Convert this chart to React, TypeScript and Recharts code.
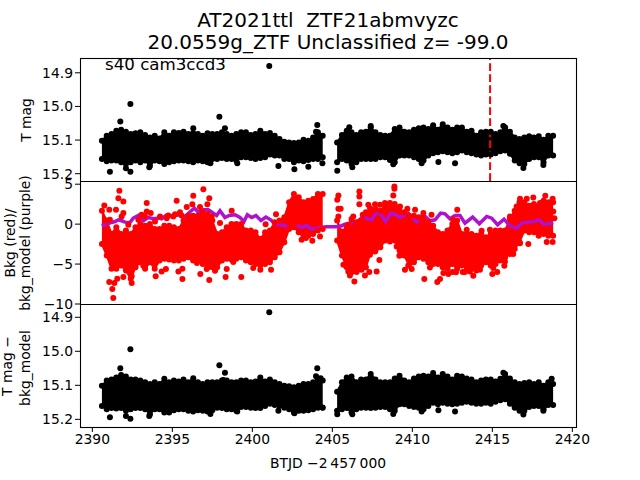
import { Area, ComposedChart, Line, ReferenceLine, Scatter, XAxis, YAxis } from "recharts";

const xDomain: [number, number] = [2389.23, 2420.23];
const xTicks = [2390, 2395, 2400, 2405, 2410, 2415, 2420];
const magTicks = [14.9, 15.0, 15.1, 15.2];
const bkgTicks = [5, 0, -5, -10];
const eventTime = 2414.86;

// sampling times of the band edges, one list per orbit
const timesA = [2390.6, 2390.9, 2391.2, 2391.5, 2391.8, 2392.1, 2392.4, 2392.7, 2393.0, 2393.3, 2393.6, 2393.9, 2394.2, 2394.5, 2394.8, 2395.1, 2395.4, 2395.7, 2396.0, 2396.3, 2396.6, 2396.9, 2397.2, 2397.5, 2397.8, 2398.1, 2398.4, 2398.7, 2399.0, 2399.3, 2399.6, 2399.9, 2400.2, 2400.5, 2400.8, 2401.1, 2401.4, 2401.7, 2402.0, 2402.3, 2402.6, 2402.9, 2403.2, 2403.5, 2403.8, 2404.1, 2404.4];
const timesB = [2405.3, 2405.6, 2405.9, 2406.2, 2406.5, 2406.8, 2407.1, 2407.4, 2407.7, 2408.0, 2408.3, 2408.6, 2408.9, 2409.2, 2409.5, 2409.8, 2410.1, 2410.4, 2410.7, 2411.0, 2411.3, 2411.6, 2411.9, 2412.2, 2412.5, 2412.8, 2413.1, 2413.4, 2413.7, 2414.0, 2414.3, 2414.6, 2414.9, 2415.2, 2415.5, 2415.8, 2416.1, 2416.4, 2416.7, 2417.0, 2417.3, 2417.6, 2417.9, 2418.2, 2418.5, 2418.8];

// top panel: T mag
const magHiA = [15.102, 15.087, 15.082, 15.072, 15.069, 15.075, 15.082, 15.08, 15.077, 15.085, 15.092, 15.087, 15.095, 15.077, 15.087, 15.077, 15.079, 15.075, 15.082, 15.079, 15.082, 15.087, 15.08, 15.082, 15.082, 15.077, 15.082, 15.087, 15.082, 15.077, 15.077, 15.085, 15.082, 15.072, 15.082, 15.079, 15.087, 15.097, 15.105, 15.107, 15.109, 15.107, 15.099, 15.102, 15.092, 15.077, 15.087];
const magLoA = [15.156, 15.163, 15.161, 15.161, 15.166, 15.171, 15.166, 15.161, 15.166, 15.161, 15.176, 15.161, 15.163, 15.171, 15.166, 15.163, 15.161, 15.161, 15.163, 15.166, 15.161, 15.163, 15.166, 15.156, 15.156, 15.153, 15.156, 15.156, 15.161, 15.151, 15.151, 15.153, 15.156, 15.153, 15.151, 15.143, 15.146, 15.146, 15.156, 15.156, 15.166, 15.161, 15.163, 15.159, 15.156, 15.156, 15.151];
const magHiB = [15.107, 15.085, 15.072, 15.077, 15.085, 15.077, 15.075, 15.063, 15.077, 15.085, 15.087, 15.087, 15.067, 15.063, 15.075, 15.077, 15.069, 15.065, 15.063, 15.067, 15.056, 15.069, 15.053, 15.063, 15.069, 15.063, 15.063, 15.075, 15.072, 15.087, 15.077, 15.075, 15.075, 15.082, 15.077, 15.063, 15.075, 15.092, 15.097, 15.092, 15.089, 15.092, 15.089, 15.099, 15.087, 15.087];
const magLoB = [15.166, 15.156, 15.161, 15.171, 15.166, 15.156, 15.156, 15.156, 15.156, 15.151, 15.151, 15.159, 15.166, 15.146, 15.146, 15.146, 15.151, 15.156, 15.161, 15.146, 15.139, 15.136, 15.133, 15.136, 15.139, 15.136, 15.131, 15.136, 15.139, 15.143, 15.146, 15.143, 15.143, 15.139, 15.133, 15.131, 15.141, 15.161, 15.169, 15.171, 15.156, 15.151, 15.151, 15.166, 15.146, 15.146];
const magOutT = [2401.06, 2392.38, 2391.75, 2397.94, 2396.31, 2398.29, 2404.06, 2403.98, 2391.1, 2392.1, 2392.38, 2393.56, 2397.38, 2399.06, 2401.63, 2402.63, 2404.38, 2403.5, 2405.31, 2406.25, 2416.94, 2418.19, 2411.63, 2412.67, 2415.69, 2406.06, 2407.4, 2408.81, 2410.58];
const magOutV = [14.88, 14.993, 15.045, 15.031, 15.065, 15.065, 15.055, 15.075, 15.194, 15.184, 15.194, 15.181, 15.169, 15.169, 15.177, 15.187, 15.169, 15.179, 15.191, 15.181, 15.183, 15.174, 15.165, 15.169, 15.058, 15.062, 15.058, 15.172, 15.169];

// middle panel: background
const bkgHiA = [1.69, 0.44, -1.23, -0.4, -1.23, -0.81, -1.23, -0.4, 0.02, -0.19, 0.02, -0.6, -0.6, -0.19, -0.19, -0.4, -0.6, 0.44, 1.06, 1.06, 1.06, 1.48, 1.27, 0.44, -1.23, -1.02, -0.4, 0.02, 0.02, 0.02, -0.81, -0.81, -1.02, -1.85, -1.02, -0.81, 0.23, 0.44, 0.85, 2.73, 3.77, 3.35, 2.73, 2.94, 3.15, 3.77, 3.77];
const bkgLoA = [-2.5, -3.94, -5.6, -5.6, -5.19, -5.81, -6.85, -5.4, -4.77, -5.6, -4.77, -5.6, -4.56, -4.35, -4.44, -4.56, -4.56, -4.35, -4.15, -4.56, -4.56, -4.98, -5.4, -5.4, -5.4, -4.56, -4.35, -4.44, -4.35, -4.15, -4.56, -4.77, -4.98, -5.19, -4.98, -4.77, -4.15, -3.52, -2.27, -0.6, -0.4, -1.02, -1.65, -1.44, -1.23, -0.81, -0.6];
const bkgHiB = [0.44, -1.02, -0.4, 0.65, 0.23, 0.44, 1.48, 1.48, 1.9, 1.69, 2.1, 2.52, 2.52, 1.69, 1.48, 1.06, 1.06, 0.85, 0.65, 0.23, -0.19, -1.02, -1.23, -0.81, 0.02, 0.44, -1.23, -1.23, -1.23, -1.44, -1.23, -1.65, -1.23, -0.81, -0.81, -0.81, 0.65, 1.69, 2.73, 2.73, 2.31, 2.52, 2.31, 2.94, 2.73, 2.73];
const bkgLoB = [-2.06, -3.94, -5.4, -6.02, -5.6, -5.19, -5.4, -3.52, -3.31, -2.9, -2.06, -1.65, -2.06, -3.31, -3.94, -5.19, -4.77, -4.15, -4.35, -4.77, -4.98, -4.98, -5.4, -5.6, -4.98, -5.6, -5.19, -5.4, -5.6, -5.81, -5.19, -4.77, -5.19, -4.98, -4.56, -4.15, -3.73, -3.1, -2.27, -0.81, -1.02, -1.02, -1.44, -1.23, -1.44, -1.44];
const bkgOutT = [2391.69, 2391.63, 2391.94, 2390.75, 2391.48, 2391.06, 2391.94, 2393.4, 2393.4, 2393.65, 2393.08, 2395.27, 2396.31, 2396.94, 2397.31, 2397.19, 2396.25, 2395.9, 2396.73, 2395.48, 2395.17, 2394.75, 2398.71, 2391.31, 2391.25, 2391.06, 2391.38, 2391.56, 2391.94, 2392.46, 2392.46, 2393.96, 2394.33, 2394.6, 2395.38, 2395.63, 2395.63, 2397.31, 2396.75, 2396.54, 2397.15, 2397.67, 2398.33, 2398.4, 2398.81, 2399.31, 2400.5, 2400.06, 2401.17, 2393.19, 2401.48, 2403.08, 2403.75, 2404.23, 2403.35, 2397.98, 2400.83, 2408.88, 2408.88, 2408.81, 2406.69, 2406.69, 2406.69, 2405.38, 2405.31, 2405.38, 2405.52, 2405.38, 2407.25, 2407.67, 2408.29, 2409.69, 2412.81, 2417.56, 2418.31, 2418.77, 2406.38, 2406.1, 2406.52, 2407.04, 2407.31, 2407.77, 2407.94, 2407.67, 2409.19, 2409.54, 2409.75, 2409.96, 2410.75, 2411.56, 2411.73, 2411.94, 2412.52, 2412.73, 2413.15, 2413.29, 2413.81, 2415.0, 2415.31, 2415.75, 2416.31, 2417.25, 2418.4, 2418.77];
const bkgOutV = [4.17, 3.25, 2.83, 2.33, 1.79, 1.79, 1.38, 2.63, 1.58, 1.38, 1.17, 2.92, 3.54, 4.38, 3.25, 2.5, 2.5, 2.13, 2.13, 1.5, 1.25, 1.08, 1.67, -9.25, -8.13, -7.25, -7.38, -6.83, -6.63, -7.38, -6.54, -6.54, -5.92, -5.63, -5.92, -5.58, -6.88, -7.0, -6.25, -4.88, -5.63, -5.83, -6.63, -5.63, -4.75, -6.63, -5.71, -5.5, -5.71, -5.21, 1.25, -1.96, -2.08, -1.54, -1.75, 0.13, 0, 4.71, 4.42, 3.58, 4.08, 3.46, 2.5, 3.58, 3.04, 1.92, 1.92, 0.96, 2.42, 2.5, 2.63, 1.92, 1.79, 3.33, 3.54, 3.17, -7.17, -6.42, -6.0, -6.42, -6.0, -5.92, -4.5, -3.42, -3.96, -5.71, -5.17, -5.63, -6.88, -7.25, -6.88, -6.13, -6.0, -6.04, -6.0, -6.0, -6.46, -6.25, -6.0, -5.21, -3.75, -2.5, -2.25, -2.25];
// loose dots that make the edges of the red band lumpy
const bkgEdgeT = [2391.1, 2391.83, 2392.25, 2392.88, 2393.29, 2393.92, 2394.23, 2394.65, 2395.06, 2395.58, 2397.46, 2405.69, 2406.0, 2406.31, 2406.9, 2407.36, 2407.98, 2408.6, 2409.23, 2410.17, 2410.69, 2411.2, 2412.56, 2412.25, 2413.4, 2414.33, 2414.85, 2416.1, 2416.52, 2416.73, 2417.15, 2417.98, 2418.81, 2418.88, 2405.69, 2406.0, 2406.83, 2407.04, 2407.35, 2408.6, 2409.02, 2409.33, 2411.1, 2412.25, 2413.6, 2414.23, 2415.06, 2415.79, 2416.73];
const bkgEdgeV = [0.54, 0.96, -0.08, 0.54, 0.96, 0.33, 0.96, 0.75, 0.96, 1.08, 0.96, -0.92, -0.08, 0.96, 1.17, 2.0, 2.42, 2.63, 2.21, 1.79, 1.38, 1.17, 0.54, -0.92, -0.71, -0.83, -0.71, 0.96, 2.21, 3.17, 3.17, 2.63, 1.58, 0.75, -5.08, -5.92, -5.71, -5.29, -3.83, -2.17, -2.79, -3.83, -5.42, -6.25, -5.92, -5.71, -5.5, -4.67, -2.38];
const modelT = [2390.58, 2390.9, 2391.21, 2391.42, 2391.63, 2391.83, 2392.04, 2392.35, 2392.56, 2392.88, 2393.19, 2393.5, 2393.81, 2394.13, 2394.33, 2394.6, 2394.85, 2395.17, 2395.48, 2395.79, 2396.13, 2396.38, 2396.63, 2396.94, 2397.25, 2397.56, 2397.77, 2397.98, 2398.29, 2398.56, 2398.92, 2399.23, 2399.48, 2399.69, 2399.96, 2400.23, 2400.54, 2400.85, 2401.15, 2401.42, 2401.73, 2402.04, 2402.25, 2402.56, 2402.88, 2403.08, 2403.4, 2403.71, 2404.02, 2404.33, 2404.65, 2405.27, 2405.48, 2405.79, 2406.21, 2406.63, 2406.94, 2407.25, 2407.46, 2407.67, 2407.98, 2408.33, 2408.65, 2408.98, 2409.23, 2409.75, 2410.27, 2410.69, 2411.1, 2411.42, 2411.77, 2412.04, 2412.35, 2412.67, 2412.98, 2413.29, 2413.77, 2414.19, 2414.65, 2414.96, 2415.33, 2415.73, 2416.1, 2416.52, 2416.83, 2417.25, 2417.56, 2417.94, 2418.19, 2418.5, 2418.81];
const modelV = [-0.17, 0, 0.21, 0.33, 0.54, 0.42, 0.25, 0.21, 0.75, 1.08, 0.42, 0.83, 0.67, 0.75, 0.67, 1.08, 0.96, 1.08, 1.17, 0.96, 1.58, 2.0, 1.5, 1.79, 1.79, 1.38, 1.08, 1.67, 0.83, 1.08, 1.17, 0.83, 0.33, 1.17, 0.83, 1.08, 0.46, 0.88, 0.54, 0, -0.08, -0.17, -0.5, -0.42, -0.21, -0.42, -0.17, -0.63, -0.5, -0.38, -0.33, -0.33, -0.29, 0, 0.13, 0.42, 0.96, 0.63, 0.54, 1.25, 1.38, 0.33, 1.38, 1.17, 0.83, 1.38, 0.25, 1.17, 0.42, 0.54, 1.38, 1.29, 0.67, 1.08, 1.08, 0.13, 0.88, 0.04, 0.96, 0.75, -0.08, 0.63, -0.21, -0.5, 0.13, 0.25, 0.33, 0.54, 0, 0.04, 0.17];

// bottom panel: T mag minus background model
const corrHiA = [15.101, 15.086, 15.083, 15.077, 15.07, 15.074, 15.083, 15.083, 15.086, 15.091, 15.096, 15.091, 15.096, 15.081, 15.091, 15.086, 15.089, 15.083, 15.091, 15.086, 15.091, 15.096, 15.091, 15.091, 15.091, 15.086, 15.086, 15.091, 15.091, 15.086, 15.086, 15.091, 15.089, 15.077, 15.089, 15.083, 15.091, 15.096, 15.101, 15.103, 15.106, 15.101, 15.096, 15.096, 15.091, 15.08, 15.086];
const corrLoA = [15.161, 15.17, 15.167, 15.168, 15.167, 15.175, 15.17, 15.167, 15.167, 15.17, 15.185, 15.17, 15.17, 15.18, 15.18, 15.173, 15.17, 15.17, 15.175, 15.177, 15.173, 15.175, 15.177, 15.173, 15.166, 15.167, 15.17, 15.17, 15.175, 15.164, 15.164, 15.166, 15.167, 15.167, 15.161, 15.154, 15.158, 15.161, 15.166, 15.17, 15.18, 15.175, 15.175, 15.173, 15.17, 15.166, 15.166];
const corrHiB = [15.119, 15.091, 15.077, 15.074, 15.091, 15.083, 15.083, 15.067, 15.083, 15.091, 15.091, 15.091, 15.08, 15.072, 15.086, 15.091, 15.08, 15.074, 15.072, 15.074, 15.064, 15.077, 15.067, 15.074, 15.083, 15.072, 15.074, 15.08, 15.083, 15.091, 15.086, 15.083, 15.083, 15.089, 15.081, 15.067, 15.08, 15.091, 15.096, 15.093, 15.091, 15.096, 15.091, 15.101, 15.091, 15.096];
const corrLoB = [15.175, 15.17, 15.167, 15.18, 15.17, 15.166, 15.166, 15.167, 15.166, 15.164, 15.164, 15.17, 15.175, 15.156, 15.156, 15.161, 15.164, 15.166, 15.17, 15.161, 15.151, 15.156, 15.151, 15.154, 15.156, 15.154, 15.151, 15.148, 15.151, 15.154, 15.154, 15.151, 15.154, 15.148, 15.144, 15.141, 15.154, 15.166, 15.175, 15.175, 15.164, 15.161, 15.161, 15.17, 15.158, 15.158];
const corrOutT = [2401.06, 2392.38, 2391.75, 2397.94, 2398.29, 2398.19, 2396.31, 2404.06, 2403.98, 2404.27, 2391.1, 2392.1, 2392.38, 2393.56, 2397.38, 2399.06, 2401.63, 2404.38, 2402.63, 2405.31, 2406.25, 2408.81, 2410.58, 2411.63, 2412.67, 2416.94, 2418.19, 2415.69, 2418.71];
const corrOutV = [14.885, 14.994, 15.05, 15.041, 15.063, 15.084, 15.079, 15.05, 15.073, 15.079, 15.194, 15.19, 15.198, 15.19, 15.184, 15.177, 15.175, 15.165, 15.182, 15.185, 15.185, 15.184, 15.177, 15.173, 15.177, 15.186, 15.175, 15.063, 15.081];

const toPoints = (ts: number[], vs: number[]) => ts.map((t, i) => ({ t, v: vs[i] }));

function bandRows(hiA: number[], loA: number[], hiB: number[], loB: number[]) {
  const a = timesA.map((t, i) => ({ t, range: [hiA[i], loA[i]] as [number, number] | null }));
  const b = timesB.map((t, i) => ({ t, range: [hiB[i], loB[i]] as [number, number] | null }));
  return [...a, { t: 2404.85, range: null }, ...b];
}

const Dot = (color: string) => (p: any) => <circle cx={p.cx} cy={p.cy} r={3} fill={color} />;

const tickStyle = { fontSize: 13.89, fill: "#000" };
const minus = (v: number) => String(v).replace("-", "\u2212");
const PAD = 12; // room for tick labels that stick out of a panel

function Panel({ top, color, hi, lo, outT, outV, yDomain, yTicks, reversed, fmt, showX, children }: any) {
  const [hiA, loA, hiB, loB] = [hi[0], lo[0], hi[1], lo[1]];
  const edge = [
    ...toPoints(timesA, hiA),
    ...toPoints(timesA, loA),
    ...toPoints(timesB, hiB),
    ...toPoints(timesB, loB),
  ];
  const dot = Dot(color);
  const bottomRoom = showX ? 40 : PAD;
  return (
    <div style={{ position: "absolute", left: 0, top: top - PAD }}>
      <ComposedChart
        width={640}
        height={123 + PAD + bottomRoom}
        data={bandRows(hiA, loA, hiB, loB)}
        margin={{ top: PAD, right: 64, bottom: showX ? 0 : PAD, left: 0 }}
      >
        <XAxis
          dataKey="t"
          type="number"
          domain={xDomain}
          ticks={xTicks}
          interval={0}
          hide={!showX}
          height={showX ? 40 : 0}
          axisLine={false}
          tickSize={5}
          tick={tickStyle}
          tickLine={{ stroke: "#000" }}
          allowDataOverflow
        />
        <YAxis
          type="number"
          width={80}
          domain={yDomain}
          ticks={yTicks}
          interval={0}
          reversed={reversed}
          axisLine={false}
          tickSize={5}
          tick={tickStyle}
          tickLine={{ stroke: "#000" }}
          tickFormatter={fmt}
          allowDataOverflow
        />
        <Area dataKey="range" type="linear" stroke={color} strokeWidth={2} fill={color} fillOpacity={1} connectNulls={false} isAnimationActive={false} dot={false} activeDot={false} />
        <Scatter data={edge} dataKey="v" shape={dot} isAnimationActive={false} />
        <Scatter data={toPoints(outT, outV)} dataKey="v" shape={dot} isAnimationActive={false} />
        {children}
      </ComposedChart>
    </div>
  );
}

export default function App() {
  const font = "'DejaVu Sans', sans-serif";
  return (
    <div style={{ position: "absolute", left: 0, top: 0, width: 640, height: 480, background: "#fff", fontFamily: font }}>
      <Panel
        top={58}
        color="#000"
        hi={[magHiA, magHiB]}
        lo={[magLoA, magLoB]}
        outT={magOutT}
        outV={magOutV}
        yDomain={[14.856, 15.2217]}
        yTicks={magTicks}
        reversed
        fmt={(v: number) => v.toFixed(1)}
      >
        <ReferenceLine x={eventTime} stroke="#ff0000" strokeWidth={2} strokeDasharray="7.7 3.3" />
      </Panel>
      <Panel
        top={181}
        color="#ff0000"
        hi={[bkgHiA, bkgHiB]}
        lo={[bkgLoA, bkgLoB]}
        outT={bkgOutT}
        outV={bkgOutV}
        yDomain={[-10, 5.4]}
        yTicks={bkgTicks}
        fmt={minus}
      >
        <Scatter data={toPoints(bkgEdgeT, bkgEdgeV)} dataKey="v" shape={Dot("#ff0000")} isAnimationActive={false} />
        <Line data={toPoints(modelT, modelV)} dataKey="v" type="linear" stroke="#b011cc" strokeWidth={3.5} dot={false} activeDot={false} isAnimationActive={false} />
      </Panel>
      <Panel
        top={304}
        color="#000"
        hi={[corrHiA, corrHiB]}
        lo={[corrLoA, corrLoB]}
        outT={corrOutT}
        outV={corrOutV}
        yDomain={[14.861, 15.2225]}
        yTicks={magTicks}
        reversed
        fmt={(v: number) => v.toFixed(1)}
        showX
      />
      <svg width={640} height={480} style={{ position: "absolute", left: 0, top: 0, pointerEvents: "none" }} fontFamily={font}>
        <rect x={80.5} y={58.5} width={496} height={369} fill="none" stroke="#000" strokeWidth={1.1} />
        <line x1={80} x2={577} y1={181.5} y2={181.5} stroke="#000" strokeWidth={1.1} />
        <line x1={80} x2={577} y1={304.5} y2={304.5} stroke="#000" strokeWidth={1.1} />
        <text x={328} y={27} textAnchor="middle" fontSize={20} style={{ whiteSpace: "pre" }}>AT2021ttl  ZTF21abmvyzc</text>
        <text x={328} y={49} textAnchor="middle" fontSize={20}>20.0559g_ZTF Unclassified z= -99.0</text>
        <text x={105} y={70} fontSize={16.67}>s40 cam3ccd3</text>
        <text transform="translate(31,120) rotate(-90)" textAnchor="middle" fontSize={13.89}>T mag</text>
        <text transform="translate(15,243) rotate(-90)" textAnchor="middle" fontSize={13.89}>Bkg (red)/</text>
        <text transform="translate(30,243) rotate(-90)" textAnchor="middle" fontSize={13.89}>bkg_model (purple)</text>
        <text transform="translate(12,366) rotate(-90)" textAnchor="middle" fontSize={13.89}>T mag −</text>
        <text transform="translate(30,368) rotate(-90)" textAnchor="middle" fontSize={13.89}>bkg_model</text>
        <text x={328} y={468} textAnchor="middle" fontSize={13.89}>BTJD −2{"\u2009"}457{"\u2009"}000</text>
      </svg>
    </div>
  );
}
